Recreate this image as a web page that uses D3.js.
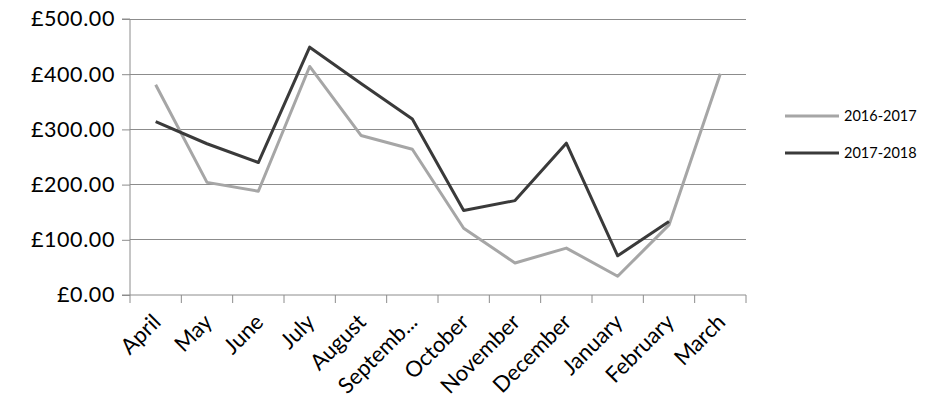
<!DOCTYPE html>
<html lang="en">
<head>
  <meta charset="UTF-8">
  <title>Monthly totals 2016-2018</title>
  <script src="https://d3js.org/d3.v7.min.js"></script>
  <style>
    body { margin: 0; background: #fff; font-family: Lato, 'Open Sans', sans-serif; }
    .axis text { fill: #000; }
    .grid line { stroke: #8c8c8c; }
  </style>
</head>
<body>
<svg width="937" height="412"></svg>
<script>
  // Chart data
  const months = ["April", "May", "June", "July", "August", "Septemb...", "October",
                  "November", "December", "January", "February", "March"];
  const series2016 = [381, 204, 188, 414, 289, 264, 121, 58, 85, 34, 127, 401];
  const series2017 = [314, 274, 240, 449, 383, 319, 153, 171, 275, 71, 133, null];
  const yTicks = [0, 100, 200, 300, 400, 500];
  const seriesNames = ["2016-2017", "2017-2018"];
  const seriesColors = ["#a6a6a6", "#3a3a3a"];

  const margin = {top: 19, left: 130, right: 191, bottom: 117};
  const width = 937 - margin.left - margin.right,
        height = 412 - margin.top - margin.bottom;

  const svg = d3.select("svg");
  const g = svg.append("g").attr("transform", `translate(${margin.left},${margin.top})`);

  const x = d3.scaleBand().domain(months).range([0, width]);
  const y = d3.scaleLinear().domain([0, 500]).range([height, 0]);

  // Gridlines
  g.append("g").attr("class", "grid")
    .selectAll("line").data(yTicks.filter(d => d > 0)).enter().append("line")
    .attr("x1", 0).attr("x2", width)
    .attr("y1", d => y(d)).attr("y2", d => y(d))
    .attr("shape-rendering", "crispEdges");

  // Y axis
  const yAxis = g.append("g").attr("class", "axis")
    .call(d3.axisLeft(y).tickValues(yTicks).tickSize(8).tickPadding(7)
      .tickFormat(d => "£" + d3.format(".2f")(d)));
  yAxis.selectAll("line, path").attr("stroke", "#8c8c8c");
  yAxis.select("path").attr("d", `M-8,${height}H0V0H-8`);
  yAxis.selectAll("text").style("font-size", "21.5px").style("letter-spacing", "0.6px")
    .style("font-family", "Lato, sans-serif");

  // X axis
  const xAxis = g.append("g").attr("class", "axis")
    .attr("transform", `translate(0,${height})`)
    .call(d3.axisBottom(x).tickSize(0).tickPadding(0));
  xAxis.select("path").attr("stroke", "#8c8c8c").attr("d", `M0,0H${width}`);
  // boundary ticks between categories
  xAxis.selectAll(".bt").data(d3.range(months.length + 1)).enter().append("line")
    .attr("class", "bt")
    .attr("x1", i => i * x.step()).attr("x2", i => i * x.step())
    .attr("y1", 0).attr("y2", 8).attr("stroke", "#8c8c8c");
  xAxis.selectAll(".tick text")
    .style("font-size", "22px").style("font-family", "Lato, sans-serif")
    .attr("text-anchor", "end")
    .attr("dy", "0.35em")
    .attr("transform", "translate(1,23) rotate(-45)");

  // Lines
  const line = d3.line()
    .defined(d => d != null)
    .x((d, i) => x(months[i]) + x.bandwidth() / 2)
    .y(d => y(d));

  [series2016, series2017].forEach((s, i) => {
    g.append("path")
      .datum(s)
      .attr("fill", "none")
      .attr("stroke", seriesColors[i])
      .attr("stroke-width", 3)
      .attr("stroke-linejoin", "round")
      .attr("d", line);
  });

  // Legend
  const legend = svg.append("g").attr("transform", "translate(785,116)");
  seriesNames.forEach((name, i) => {
    const row = legend.append("g").attr("transform", `translate(0,${i * 37})`);
    row.append("line").attr("x1", 0).attr("x2", 54).attr("y1", 0).attr("y2", 0)
      .attr("stroke", seriesColors[i]).attr("stroke-width", 3);
    row.append("text").attr("x", 59).attr("y", 0).attr("dy", "0.35em")
      .style("font-size", "14.5px").style("font-family", "Lato, sans-serif")
      .text(name);
  });
</script>
</body>
</html>
